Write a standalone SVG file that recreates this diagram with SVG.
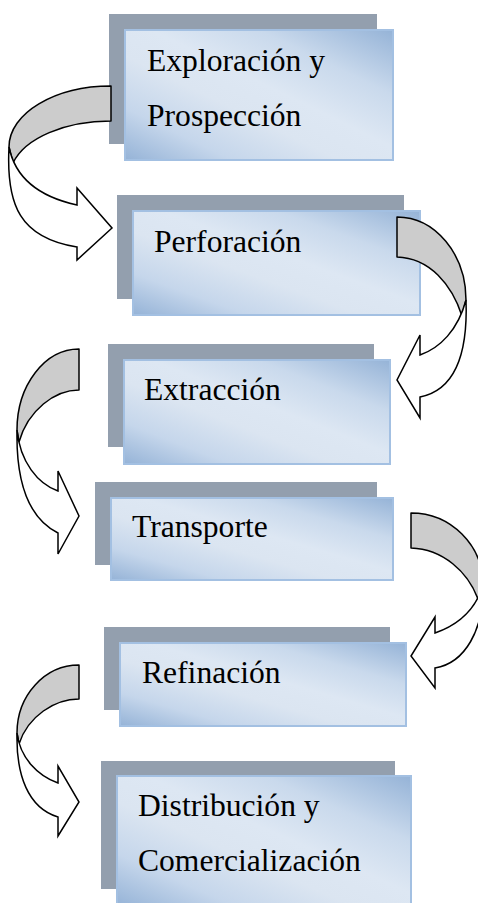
<svg xmlns="http://www.w3.org/2000/svg" width="478" height="903" viewBox="0 0 478 903">
<defs>
<linearGradient id="fillg" x1="1" y1="0" x2="0" y2="1">
<stop offset="0" stop-color="#95b3d7"/>
<stop offset="0.25" stop-color="#c9d9ec"/>
<stop offset="0.45" stop-color="#dde7f3"/>
<stop offset="0.6" stop-color="#dbe5f1"/>
<stop offset="0.8" stop-color="#c5d6eb"/>
<stop offset="1" stop-color="#95b3d7"/>
</linearGradient>
</defs>
<style>
.sh{fill:#939fae;}
.fr{fill:url(#fillg);stroke:#a3c0e2;stroke-width:2;}
.t{font-family:"Liberation Serif","Times New Roman",serif;font-size:31.6px;fill:#000;}
.bk{fill:#cccccc;stroke:#000;stroke-width:1.5;stroke-linejoin:round;}
.fw{fill:#ffffff;stroke:#000;stroke-width:1.5;stroke-linejoin:miter;}
</style>
<rect width="478" height="903" fill="#ffffff"/>
<g id="n1">
<rect class="sh" x="109" y="14" width="268" height="130"/>
<rect class="fr" x="125" y="30" width="268" height="130"/>
<text class="t" x="147" y="71">Exploración y</text>
<text class="t" x="147" y="126">Prospección</text>
</g>
<g id="n2">
<rect class="sh" x="117" y="195" width="287" height="104"/>
<rect class="fr" x="133" y="211" width="287" height="104"/>
<text class="t" x="154" y="252">Perforación</text>
</g>
<g id="n3">
<rect class="sh" x="108" y="344" width="266" height="103"/>
<rect class="fr" x="124" y="360" width="266" height="104"/>
<text class="t" x="144" y="400">Extracción</text>
</g>
<g id="n4">
<rect class="sh" x="95" y="482" width="282" height="83"/>
<rect class="fr" x="111" y="498" width="282" height="82"/>
<text class="t" x="132" y="537">Transporte</text>
</g>
<g id="n5">
<rect class="sh" x="104" y="627" width="286" height="83"/>
<rect class="fr" x="120" y="643" width="286" height="83"/>
<text class="t" x="142" y="683">Refinación</text>
</g>
<g id="n6">
<rect class="sh" x="101" y="761" width="294" height="128"/>
<rect class="fr" x="117" y="776" width="294" height="130"/>
<text class="t" x="138" y="816">Distribución y</text>
<text class="t" x="138" y="871">Comercialización</text>
</g>
<g id="connectors">
<g id="a1">
<path class="bk" d="M111,86 C54.7,86 9,113.3 9,147 L13,163 C25,138 65,121 111,121 Z"/>
<path class="fw" d="M9,147 C6,205 20,238 77,247 L77,260 L112,228 L77,188 L77,205 C45,198 16,182 9,147 Z"/>
</g>
<g id="a2">
<path class="bk" d="M397,217 C435.1,217 466,254.2 466,300 L462,316 C452,285 430,258 397,257 Z"/>
<path class="fw" d="M466,300 C468,355 455,390 420,397 L420,418 L397,380 L420,335 L420,355 C440,348 458,330 466,300 Z"/>
</g>
<g id="a3">
<path class="bk" d="M79,349 C44.8,349 17,385.3 17,430 L19,442 C28,410 55,390 79,390 Z"/>
<path class="fw" d="M17,430 C16,480 28,518 58,533 L58,554 L79,516 L58,471 L58,491 C38,484 20,462 17,430 Z"/>
</g>
<g id="a4">
<path class="bk" d="M411,513 C450.8,513 483,545.2 483,585 L478,599 C468,572 443,549 411,548 Z"/>
<path class="fw" d="M483,585 C484,630 465,663 435,668 L435,688 L411,656 L435,617 L435,633 C455,626 475,612 483,585 Z"/>
</g>
<g id="a5">
<path class="bk" d="M79,665 C44.8,665 17,695.4 17,733 L19,744 C28,716 55,699 79,699 Z"/>
<path class="fw" d="M17,733 C16,775 28,808 58,817 L58,836 L79,802 L58,766 L58,783 C38,776 20,758 17,733 Z"/>
</g>
</g>
</svg>
